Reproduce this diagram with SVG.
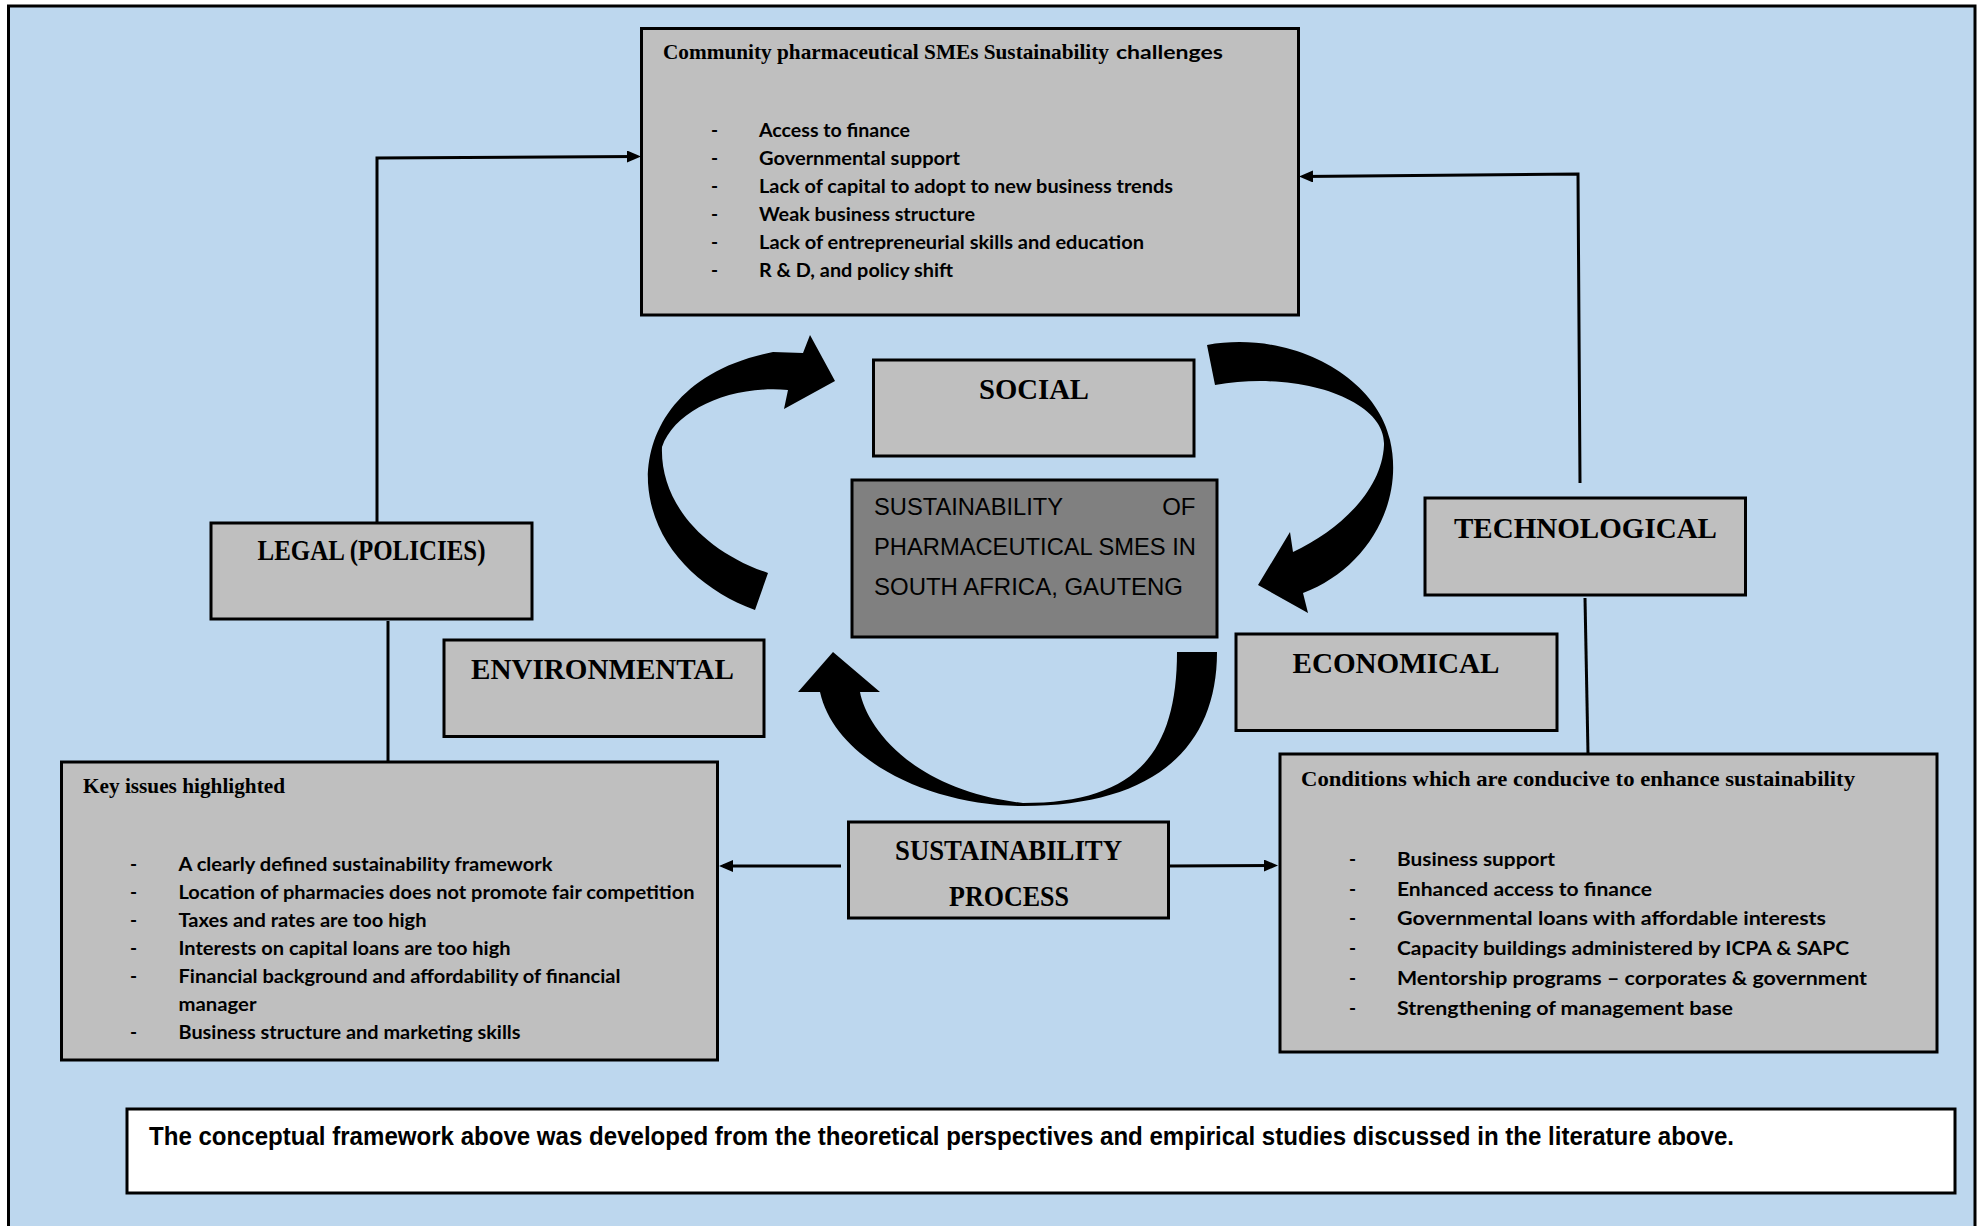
<svg xmlns="http://www.w3.org/2000/svg" width="1977" height="1226" viewBox="0 0 1977 1226">
  <style>
    .box { fill: #BFBFBF; stroke: #000; stroke-width: 3; }
    .core { fill: #808080; stroke: #000; stroke-width: 3; }
    .note { fill: #FFFFFF; stroke: #000; stroke-width: 3; }
    .head { font-family: "Liberation Serif", "Times New Roman", serif; font-weight: bold; font-size: 29px; fill: #000; }
    .title { font-family: "Liberation Serif", "Times New Roman", serif; font-weight: bold; font-size: 21.5px; fill: #000; }
    .item { font-family: Lato, "Liberation Sans", sans-serif; font-weight: bold; font-size: 19px; fill: #000; }
    .core-text { font-family: "Liberation Sans", Arial, sans-serif; font-size: 24px; fill: #000; }
    .foot { font-family: "Liberation Sans Narrow", "Liberation Sans", Arial, sans-serif; font-weight: bold; font-size: 25px; fill: #000; }
    .conn { fill: none; stroke: #000; stroke-width: 3; }
    .swoosh { fill: #000; stroke: none; }
  </style>
  <defs>
    <marker id="ah" markerWidth="14" markerHeight="12" refX="10" refY="6" orient="auto" markerUnits="userSpaceOnUse">
      <path d="M0,0 L14,6 L0,12 Z" fill="#000"/>
    </marker>
  </defs>

  <!-- canvas and outer frame -->
  <rect x="0" y="0" width="1977" height="1226" fill="#FFFFFF"/>
  <rect x="8.5" y="6" width="1966.5" height="1240" fill="#BDD7EE" stroke="#000" stroke-width="3"/>

  <!-- connectors -->
  <g id="connectors">
    <polyline class="conn" points="377,523 377,158 637,156.5" marker-end="url(#ah)"/>
    <polyline class="conn" points="1580,483 1578,174 1303,176.5" marker-end="url(#ah)"/>
    <line class="conn" x1="388" y1="621" x2="388" y2="762"/>
    <line class="conn" x1="1585" y1="598" x2="1588" y2="754"/>
    <line class="conn" x1="841" y1="866" x2="723" y2="866" marker-end="url(#ah)"/>
    <line class="conn" x1="1169" y1="866" x2="1274" y2="865.5" marker-end="url(#ah)"/>

    <!-- cycle arrows around the core box -->
    <g id="cycle-arrows">
      <path class="swoosh" d="M768,573 L755,610 C700,590 652,545 648,483 C646,430 680,370 773,352 L803,353 L810,335 L835,381 L784,409 L788,390 C730,385 675,410 662,447 C660,500 700,550 768,573 Z"/>
      <path class="swoosh" d="M1207,345 C1290,330 1375,375 1390,440 C1405,505 1365,570 1303,593 L1308,613 L1258,585 L1290,532 L1293,552 C1340,530 1382,490 1384,445 C1386,400 1300,370 1215,385 Z"/>
      <path class="swoosh" d="M1177,652 L1217,652 C1217,752 1149,806 1023,806 C930,806 835,760 820,692 L798,692 L833,652 L880,692 L860,692 C866,725 910,790 1023,803 C1131,803 1177,758 1177,652 Z"/>
    </g>
  </g>

  <!-- challenges box -->
  <g id="challenges">
    <rect class="box" x="641.5" y="28.5" width="657" height="286.5"/>
    <text class="title" x="663" y="59" textLength="446" lengthAdjust="spacingAndGlyphs">Community pharmaceutical SMEs Sustainability</text>
    <text class="item" x="1116" y="59" font-size="21" textLength="107" lengthAdjust="spacingAndGlyphs">challenges</text>
    <text class="item" x="711" y="137">-</text>
    <text class="item" x="759" y="137" textLength="151" lengthAdjust="spacingAndGlyphs">Access to finance</text>
    <text class="item" x="711" y="165">-</text>
    <text class="item" x="759" y="165" textLength="201" lengthAdjust="spacingAndGlyphs">Governmental support</text>
    <text class="item" x="711" y="193">-</text>
    <text class="item" x="759" y="193" textLength="414" lengthAdjust="spacingAndGlyphs">Lack of capital to adopt to new business trends</text>
    <text class="item" x="711" y="221">-</text>
    <text class="item" x="759" y="221" textLength="216" lengthAdjust="spacingAndGlyphs">Weak business structure</text>
    <text class="item" x="711" y="249">-</text>
    <text class="item" x="759" y="249" textLength="385" lengthAdjust="spacingAndGlyphs">Lack of entrepreneurial skills and education</text>
    <text class="item" x="711" y="277">-</text>
    <text class="item" x="759" y="277" textLength="194" lengthAdjust="spacingAndGlyphs">R &amp; D, and policy shift</text>
  </g>

  <g id="social">
    <rect class="box" x="873.5" y="360" width="320.5" height="96"/>
    <text class="head" x="979" y="399" textLength="110" lengthAdjust="spacingAndGlyphs">SOCIAL</text>
  </g>

  <g id="core">
    <rect class="core" x="852" y="480" width="365" height="157"/>
    <text class="core-text" x="874" y="515" textLength="189" lengthAdjust="spacingAndGlyphs">SUSTAINABILITY</text>
    <text class="core-text" x="1195.5" y="515" text-anchor="end">OF</text>
    <text class="core-text" x="874" y="555" textLength="322" lengthAdjust="spacingAndGlyphs">PHARMACEUTICAL SMES IN</text>
    <text class="core-text" x="874" y="595" textLength="309" lengthAdjust="spacingAndGlyphs">SOUTH AFRICA, GAUTENG</text>
  </g>

  <g id="legal">
    <rect class="box" x="211" y="523" width="321" height="96"/>
    <text class="head" x="257.5" y="560" textLength="228" lengthAdjust="spacingAndGlyphs">LEGAL (POLICIES)</text>
  </g>

  <g id="technological">
    <rect class="box" x="1425" y="498" width="320.5" height="97"/>
    <text class="head" x="1454" y="538" textLength="263" lengthAdjust="spacingAndGlyphs">TECHNOLOGICAL</text>
  </g>

  <g id="environmental">
    <rect class="box" x="444" y="640" width="320" height="96.5"/>
    <text class="head" x="471" y="679" textLength="263" lengthAdjust="spacingAndGlyphs">ENVIRONMENTAL</text>
  </g>

  <g id="economical">
    <rect class="box" x="1236" y="634" width="321" height="96.5"/>
    <text class="head" x="1292.5" y="673" textLength="207" lengthAdjust="spacingAndGlyphs">ECONOMICAL</text>
  </g>

  <g id="process">
    <rect class="box" x="848.5" y="822" width="320" height="96"/>
    <text class="head" x="895" y="860" font-size="27" textLength="227" lengthAdjust="spacingAndGlyphs">SUSTAINABILITY</text>
    <text class="head" x="949" y="906" font-size="27" textLength="120" lengthAdjust="spacingAndGlyphs">PROCESS</text>
  </g>

  <!-- key issues box -->
  <g id="key-issues">
    <rect class="box" x="61.5" y="762" width="656" height="298"/>
    <text class="title" x="83" y="793" textLength="202" lengthAdjust="spacingAndGlyphs">Key issues highlighted</text>
    <text class="item" x="130" y="871">-</text>
    <text class="item" x="178.5" y="871" textLength="374" lengthAdjust="spacingAndGlyphs">A clearly defined sustainability framework</text>
    <text class="item" x="130" y="899">-</text>
    <text class="item" x="178.5" y="899" textLength="516" lengthAdjust="spacingAndGlyphs">Location of pharmacies does not promote fair competition</text>
    <text class="item" x="130" y="927">-</text>
    <text class="item" x="178.5" y="927" textLength="248" lengthAdjust="spacingAndGlyphs">Taxes and rates are too high</text>
    <text class="item" x="130" y="955">-</text>
    <text class="item" x="178.5" y="955" textLength="332" lengthAdjust="spacingAndGlyphs">Interests on capital loans are too high</text>
    <text class="item" x="130" y="983">-</text>
    <text class="item" x="178.5" y="983" textLength="442" lengthAdjust="spacingAndGlyphs">Financial background and affordability of financial</text>
    <text class="item" x="178.5" y="1011" textLength="78" lengthAdjust="spacingAndGlyphs">manager</text>
    <text class="item" x="130" y="1039">-</text>
    <text class="item" x="178.5" y="1039" textLength="342" lengthAdjust="spacingAndGlyphs">Business structure and marketing skills</text>
  </g>

  <!-- enabling conditions box -->
  <g id="conditions">
    <rect class="box" x="1280" y="754" width="657" height="298"/>
    <text class="title" x="1301" y="786" font-size="22" textLength="554" lengthAdjust="spacingAndGlyphs">Conditions which are conducive to enhance sustainability</text>
    <text class="item" x="1349" y="866">-</text>
    <text class="item" x="1397" y="866" textLength="158" lengthAdjust="spacingAndGlyphs">Business support</text>
    <text class="item" x="1349" y="896">-</text>
    <text class="item" x="1397" y="896" textLength="255" lengthAdjust="spacingAndGlyphs">Enhanced access to finance</text>
    <text class="item" x="1349" y="925">-</text>
    <text class="item" x="1397" y="925" textLength="429" lengthAdjust="spacingAndGlyphs">Governmental loans with affordable interests</text>
    <text class="item" x="1349" y="955">-</text>
    <text class="item" x="1397" y="955" textLength="452" lengthAdjust="spacingAndGlyphs">Capacity buildings administered by ICPA &amp; SAPC</text>
    <text class="item" x="1349" y="985">-</text>
    <text class="item" x="1397" y="985" textLength="470" lengthAdjust="spacingAndGlyphs">Mentorship programs – corporates &amp; government</text>
    <text class="item" x="1349" y="1015">-</text>
    <text class="item" x="1397" y="1015" textLength="336" lengthAdjust="spacingAndGlyphs">Strengthening of management base</text>
  </g>

  <!-- footnote -->
  <g id="footnote">
    <rect class="note" x="127" y="1109" width="1828" height="84"/>
    <text class="foot" x="149" y="1145" textLength="1585" lengthAdjust="spacingAndGlyphs">The conceptual framework above was developed from the theoretical perspectives and empirical studies discussed in the literature above.</text>
  </g>
</svg>
